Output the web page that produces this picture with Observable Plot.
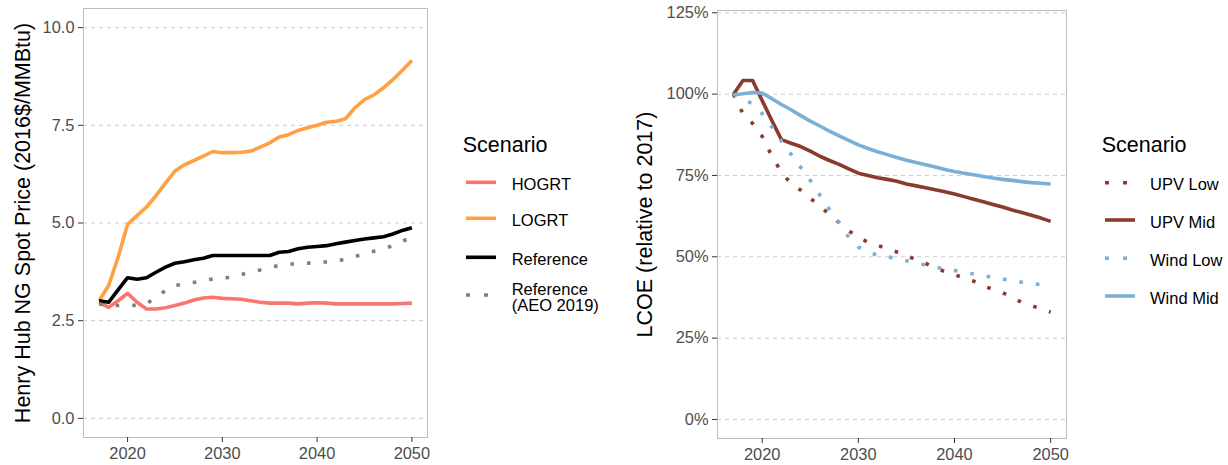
<!DOCTYPE html>
<html>
<head>
<meta charset="utf-8">
<script src="https://cdn.jsdelivr.net/npm/d3@7"></script>
<script src="https://cdn.jsdelivr.net/npm/@observablehq/plot@0.6"></script>
<style>
  body { margin: 0; background: #fff; font-family: "Liberation Sans", Arial, sans-serif; }
  #wrap { position: relative; width: 1228px; height: 465px; overflow: hidden; background: #fff; }
  .abs { position: absolute; }
</style>
</head>
<body>
<div id="wrap"></div>
<script>
// ---------- DATA ----------
const years = [2017,2018,2019,2020,2021,2022,2023,2024,2025,2026,2027,2028,2029,2030,2031,2032,2033,
  2034,2035,2036,2037,2038,2039,2040,2041,2042,2043,2044,2045,2046,2047,2048,2049,2050];

// Left panel: Henry Hub NG spot price (2016$/MMBtu)
const gasScenarios = ["HOGRT", "LOGRT", "Reference", "Reference (AEO 2019)"];
const hogrt = [2.97,2.84,3.01,3.20,2.97,2.80,2.80,2.83,2.89,2.95,3.03,3.08,3.10,3.07,3.06,3.05,3.01,
  2.97,2.95,2.95,2.95,2.93,2.95,2.96,2.95,2.93,2.93,2.93,2.93,2.93,2.93,2.93,2.94,2.95];
const logrt = [3.01,3.40,4.12,4.96,5.19,5.41,5.70,6.02,6.33,6.49,6.60,6.71,6.83,6.80,6.80,6.81,6.84,
  6.94,7.05,7.20,7.26,7.37,7.44,7.50,7.58,7.60,7.67,7.95,8.16,8.28,8.46,8.67,8.91,9.16];
const reference = [3.01,2.97,3.29,3.60,3.56,3.60,3.74,3.87,3.97,4.01,4.06,4.10,4.17,4.17,4.17,4.17,4.17,
  4.17,4.17,4.25,4.27,4.34,4.38,4.40,4.42,4.47,4.51,4.55,4.59,4.62,4.65,4.72,4.81,4.88];
const referenceAEO2019 = [2.93,2.89,2.89,2.90,2.89,2.93,3.10,3.27,3.40,3.44,3.48,3.53,3.57,3.59,3.61,3.68,3.74,
  3.80,3.87,3.91,3.95,3.95,3.97,4.00,4.00,4.01,4.08,4.14,4.21,4.28,4.34,4.42,4.53,4.64];
const gasTicksY = [0, 2.5, 5, 7.5, 10];

// Right panel: LCOE relative to 2017 (%)
const lcoeScenarios = ["UPV Low", "UPV Mid", "Wind Low", "Wind Mid"];
const upvLow = [100,94,91,87,81,76,72.5,70.5,68,65.5,63,60.5,58,56,54.5,53.5,52.5,
  51.5,50.5,49,48,46.5,45.5,44.5,43.5,42.5,41,40,39,37.5,36,35,34,33];
const upvMid = [99.9,104.2,104.2,98.0,91.9,86.0,84.9,83.9,82.5,80.9,79.6,78.4,77.0,75.7,75.0,74.3,73.8,
  73.2,72.4,71.8,71.2,70.6,70.0,69.3,68.5,67.7,66.9,66.1,65.3,64.4,63.6,62.8,61.9,60.9];
const windLow = [100,98.5,97,94,90,85.5,81.5,77.5,73.5,69,64.5,60.5,56,53,51.5,50.5,50,
  49.5,48.8,48,47.5,46.8,46.3,45.8,45.2,44.7,44.2,43.6,43.2,42.7,42.2,41.8,41.4,41];
const windMid = [99.8,100.1,100.5,100.3,98.6,96.8,95.2,93.4,91.7,90.2,88.6,87.2,85.8,84.4,83.3,82.3,81.4,
  80.5,79.7,79.0,78.3,77.6,76.8,76.2,75.7,75.2,74.7,74.2,73.8,73.5,73.1,72.8,72.6,72.4];
const lcoeTicksY = [0, 25, 50, 75, 100, 125];
const xTicks = [2020, 2030, 2040, 2050];

// ---------- STYLES ----------
const gasStyle = {
  "HOGRT": {stroke: "#F8766D", dash: null},
  "LOGRT": {stroke: "#FFA043", dash: null},
  "Reference": {stroke: "#000000", dash: null},
  "Reference (AEO 2019)": {stroke: "#7F7F7F", dash: "3.6,13"}
};
const lcoeStyle = {
  "UPV Low": {stroke: "#8B3A2E", dash: "3.6,13"},
  "UPV Mid": {stroke: "#8B3A2E", dash: null},
  "Wind Low": {stroke: "#7BAFD4", dash: "3.6,13"},
  "Wind Mid": {stroke: "#7BAFD4", dash: null}
};

const gasSeries = [hogrt, logrt, reference, referenceAEO2019];
const lcoeSeries = [upvLow, upvMid, windLow, windMid];
const toRows = (names, series) => names.flatMap((n, i) => years.map((y, j) => ({scenario: n, year: y, value: series[i][j]})));
const gasRows = toRows(gasScenarios, gasSeries);
const lcoeRows = toRows(lcoeScenarios, lcoeSeries);

const FONT = "Liberation Sans, Arial, sans-serif";
const lineMarks = (rows, names, style) => names.map(n => Plot.line(rows.filter(d => d.scenario === n), {
  x: "year", y: "value", stroke: style[n].stroke, strokeWidth: 3.6,
  strokeDasharray: style[n].dash || undefined,
  strokeLinecap: "butt", strokeLinejoin: "round"
}));

function panel({width, marginLeft, marginRight, marginTop, marginBottom, yDomain, yTicks, yFormat, yLabel, labelDx, rows, names, style}) {
  return Plot.plot({
    width, height: 465, marginLeft, marginRight, marginTop, marginBottom,
    style: {fontFamily: FONT, fontSize: "16.4px", background: "transparent", overflow: "visible"},
    x: {domain: [2015.35, 2051.65]},
    y: {domain: yDomain},
    marks: [
      Plot.gridY(yTicks, {stroke: "#CCCCCC", strokeOpacity: 1, strokeWidth: 1, strokeDasharray: "4,4"}),
      ...lineMarks(rows, names, style),
      Plot.frame({stroke: "#BDBDBD", strokeWidth: 1}),
      Plot.axisX(xTicks, {tickFormat: "d", tickSize: 5, tickPadding: 5, stroke: "#333333", fill: "#4D4D4D", label: null}),
      Plot.axisY(yTicks, {tickFormat: yFormat, tickSize: 5, tickPadding: 4, stroke: "#333333", fill: "#4D4D4D", label: null}),
      Plot.text([yLabel], {frameAnchor: "left", dx: labelDx, rotate: -90, text: d => d, textAnchor: "middle",
        lineAnchor: "middle", fontSize: 21.5, fill: "#000000"})
    ]
  });
}

const wrap = document.getElementById("wrap");

const left = panel({
  width: 440, marginLeft: 83, marginRight: 13, marginTop: 8, marginBottom: 28,
  yDomain: [-0.49, 10.49], yTicks: gasTicksY, yFormat: d => d.toFixed(1),
  yLabel: "Henry Hub NG Spot Price (2016$/MMBtu)", labelDx: -60,
  rows: gasRows, names: gasScenarios, style: gasStyle
});
left.classList.add("abs"); left.style.left = "0px"; left.style.top = "0px";
wrap.appendChild(left);

const right = panel({
  width: 470, marginLeft: 107, marginRight: 14, marginTop: 10, marginBottom: 27,
  yDomain: [-5.84, 125.7], yTicks: lcoeTicksY, yFormat: d => d + "%",
  yLabel: "LCOE (relative to 2017)", labelDx: -72,
  rows: lcoeRows, names: lcoeScenarios, style: lcoeStyle
});
right.classList.add("abs"); right.style.left = "610px"; right.style.top = "0px";
wrap.appendChild(right);

// ---------- LEGENDS ----------
function legend({left, top, width, height, names, style, titleX, titleY, keyX, textX, itemsY}) {
  const svg = d3.create("svg").attr("width", width).attr("height", height)
    .attr("class", "abs").style("left", left + "px").style("top", top + "px")
    .style("font-family", FONT);
  svg.append("text").attr("x", titleX).attr("y", titleY).attr("font-size", 21.5).attr("fill", "#000").text("Scenario");
  names.forEach((n, i) => {
    const y = itemsY[i];
    svg.append("line").attr("x1", keyX).attr("x2", keyX + 30).attr("y1", y).attr("y2", y)
      .attr("stroke", style[n].stroke).attr("stroke-width", 3.6)
      .attr("stroke-dasharray", style[n].dash ? "4,14" : null);
    const lines = n === "Reference (AEO 2019)" ? ["Reference", "(AEO 2019)"] : [n];
    const base = lines.length === 1 ? y + 7.5 : y;
    lines.forEach((s, k) => {
      svg.append("text").attr("x", textX).attr("y", base + k * 15.7)
        .attr("font-size", 16.5).attr("fill", "#000").text(s);
    });
  });
  return svg.node();
}

wrap.appendChild(legend({left: 440, top: 100, width: 180, height: 230, names: gasScenarios, style: gasStyle,
  titleX: 22.7, titleY: 51.7, keyX: 26, textX: 71.7, itemsY: [82.3, 118.3, 157.3, 195]}));
wrap.appendChild(legend({left: 1080, top: 120, width: 148, height: 200, names: lcoeScenarios, style: lcoeStyle,
  titleX: 21.7, titleY: 32, keyX: 25, textX: 70, itemsY: [62.7, 100, 138.3, 176]}));
</script>
</body>
</html>
